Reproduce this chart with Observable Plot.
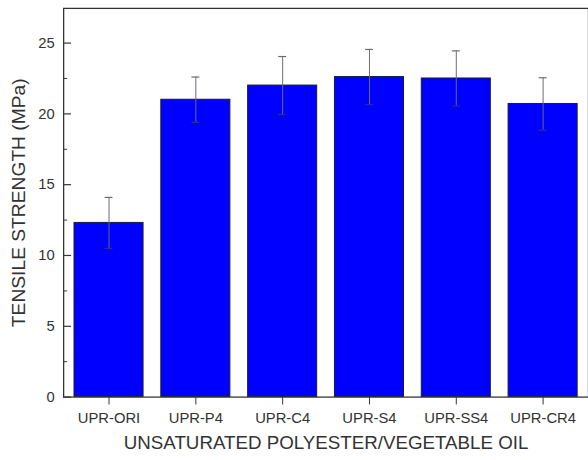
<!DOCTYPE html>
<html>
<head>
<meta charset="utf-8">
<script src="https://cdn.jsdelivr.net/npm/d3@7"></script>
<script src="https://cdn.jsdelivr.net/npm/@observablehq/plot@0.6"></script>
<style>
  html, body { margin: 0; padding: 0; background: #fff; overflow: hidden; }
  #wrap { width: 588px; height: 460px; overflow: hidden; }
  svg { font-family: "Liberation Sans", Arial, sans-serif; }
</style>
</head>
<body>
<div id="wrap"></div>
<script>
const categories = ["UPR-ORI", "UPR-P4", "UPR-C4", "UPR-S4", "UPR-SS4", "UPR-CR4"];
const strength = [12.3, 21.0, 22.0, 22.6, 22.5, 20.7];
const errors = [1.8, 1.6, 2.05, 1.95, 1.95, 1.85];
const yMajorTicks = [0, 5, 10, 15, 20, 25];
const yMinorTicks = [2.5, 7.5, 12.5, 17.5, 22.5];
const xTitle = "UNSATURATED POLYESTER/VEGETABLE OIL";
const yTitle = "TENSILE STRENGTH (MPa)";

const data = categories.map((c, i) => ({name: c, v: strength[i], lo: strength[i] - errors[i], hi: strength[i] + errors[i]}));

const chart = Plot.plot({
  width: 596,
  height: 460,
  marginLeft: 64,
  marginRight: 0,
  marginTop: 8,
  marginBottom: 58,
  style: {fontFamily: "Liberation Sans, Arial, sans-serif", fontSize: "15px", color: "#333", background: "#fff"},
  x: {domain: categories, paddingInner: 0.2, paddingOuter: 0.1},
  y: {domain: [0, 27.45]},
  marks: [
    Plot.barY(data, {x: "name", y: "v", fill: "#0000fe", stroke: "#1a1a3a", strokeWidth: 1}),
    Plot.ruleX(data, {x: "name", y1: "lo", y2: "hi", stroke: "#6a6a7a", strokeWidth: 1}),
    Plot.tickY(data, {x: "name", y: "hi", stroke: "#6a6a6a", strokeWidth: 1.2, inset: 31}),
    Plot.tickY(data, {x: "name", y: "lo", stroke: "#2a2aa0", strokeWidth: 1.2, inset: 31}),
    Plot.frame({stroke: "#333", strokeWidth: 1.3}),
    Plot.axisY(yMajorTicks, {anchor: "left", tickSize: 0, tickPadding: 9, label: null, fill: "#333"}),
    Plot.axisY(yMajorTicks, {anchor: "left", tickSize: -8, fill: "none", label: null, stroke: "#333", strokeWidth: 1.2}),
    Plot.axisY(yMinorTicks, {anchor: "left", tickSize: -4, fill: "none", label: null, stroke: "#333"}),
    Plot.axisX({anchor: "bottom", tickSize: 8, tickPadding: 8, label: null, stroke: "#333", fill: "#333"}),
    Plot.text([xTitle], {frameAnchor: "bottom", dy: 47, fontSize: 19, fill: "#333", text: d => d, textAnchor: "middle", lineAnchor: "middle", dx: 0}),
    Plot.text([yTitle], {frameAnchor: "left", dx: -45, rotate: -90, fontSize: 19.5, fill: "#333", text: d => d, textAnchor: "middle", lineAnchor: "middle"})
  ]
});
document.getElementById("wrap").appendChild(chart);
</script>
</body>
</html>
